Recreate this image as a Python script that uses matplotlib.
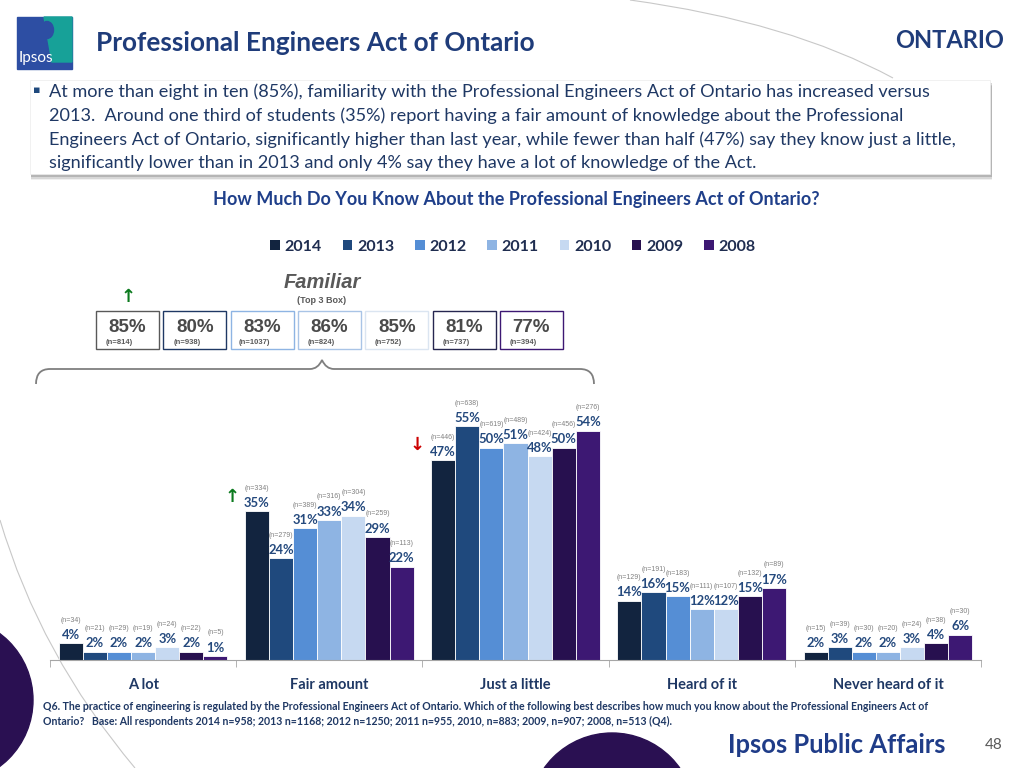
import matplotlib
matplotlib.use('Agg')
import matplotlib.pyplot as plt
from matplotlib.patches import Rectangle, Circle, PathPatch, Patch, Polygon, Ellipse
from matplotlib.path import Path
import matplotlib.transforms as mtransforms
import numpy as np

# ---------------- data ----------------
categories = ['A lot', 'Fair amount', 'Just a little', 'Heard of it', 'Never heard of it']
years = ['2014', '2013', '2012', '2011', '2010', '2009', '2008']
v2014 = [4, 35, 47, 14, 2]
v2013 = [2, 24, 55, 16, 3]
v2012 = [2, 31, 50, 15, 2]
v2011 = [2, 33, 51, 12, 2]
v2010 = [3, 34, 48, 12, 3]
v2009 = [2, 29, 50, 15, 4]
v2008 = [1, 22, 54, 17, 6]
n2014 = [34, 334, 446, 129, 15]
n2013 = [21, 279, 638, 191, 39]
n2012 = [29, 389, 619, 183, 30]
n2011 = [19, 316, 489, 111, 20]
n2010 = [24, 304, 424, 107, 24]
n2009 = [22, 259, 456, 132, 38]
n2008 = [5, 113, 276, 89, 30]
familiar_pct = [85, 80, 83, 86, 85, 81, 77]
familiar_n = [814, 938, 1037, 824, 752, 737, 394]
values = [v2014, v2013, v2012, v2011, v2010, v2009, v2008]
ns = [n2014, n2013, n2012, n2011, n2010, n2009, n2008]

colors = ['#12243f', '#1f497d', '#558ed5', '#8eb4e3', '#c6d9f1', '#27104f', '#3d1873']
box_edges = ['#595959', '#1f3864', '#8eb4e3', '#a9c4e6', '#dbe5f1', '#262650', '#3d1873']

NAVY = '#1f3864'
TITLE = '#1f3c7a'
LBL = '#24497d'
FONT = ['Lato', 'DejaVu Sans']
plt.rcParams['font.family'] = FONT

fig = plt.figure(figsize=(10.24, 7.68), dpi=100)
PX = mtransforms.Affine2D().scale(1 / 1024, -1 / 768).translate(0, 1) + fig.transFigure


def ftext(x, y, s, **kw):
    return fig.text(x / 1024, 1 - y / 768, s, **kw)


# ---------------- decorations ----------------
fig.add_artist(Circle((-50, 700), 83, transform=PX, color='#2a1052', zorder=0))
fig.add_artist(Circle((612, 816), 83, transform=PX, color='#2a1052', zorder=0))
for verts in [[(630, 0), (790, 22), (893, 78)], [(0, 520), (40, 655), (135, 768)]]:
    p = Path(verts, [Path.MOVETO, Path.CURVE3, Path.CURVE3])
    fig.add_artist(PathPatch(p, transform=PX, fill=False, edgecolor='#c8c8c8', lw=0.8, zorder=0))

# logo
fig.add_artist(Rectangle((17, 17), 55, 52, transform=PX, color='#2d4ea3', zorder=1))
fig.add_artist(Polygon([(44, 17), (72, 17), (72, 62), (52, 62), (49, 45)], transform=PX,
                       color='#17a198', zorder=1))
fig.add_artist(Ellipse((47, 30), 13, 17, transform=PX, color='#2d4ea3', zorder=2))
ftext(19, 58, 'Ipsos', fontsize=11, color='white', va='center', ha='left', zorder=3)

# title
ftext(96, 43, 'Professional Engineers Act of Ontario', fontsize=18.8, fontweight='bold',
      color=TITLE, va='center', ha='left')
ftext(1004, 41, 'ONTARIO', fontsize=17, fontweight='bold', color=TITLE, va='center', ha='right')

# text box with shadow
for i, a in enumerate([0.08, 0.14, 0.22]):
    fig.add_artist(Rectangle((31, 82 + (3 - i) * 1.3), 961, 94, transform=PX,
                             color='#404040', alpha=a, lw=0, zorder=1))
fig.add_artist(Rectangle((30, 80), 960, 94, transform=PX, facecolor='white',
                         edgecolor='#ececec', lw=0.5, zorder=2))
ftext(33, 90, '▪', fontsize=8, color='#1f497d', va='center', ha='left', zorder=3,
      family=['DejaVu Sans'])
lines = ['At more than eight in ten (85%), familiarity with the Professional Engineers Act of Ontario has increased versus',
         '2013.  Around one third of students (35%) report having a fair amount of knowledge about the Professional',
         'Engineers Act of Ontario, significantly higher than last year, while fewer than half (47%) say they know just a little,',
         'significantly lower than in 2013 and only 4% say they have a lot of knowledge of the Act.']
for i, s in enumerate(lines):
    ftext(49, 92 + i * 23.7, s, fontsize=13.1, color=NAVY, va='center', ha='left', zorder=3)

ftext(516, 199, 'How Much Do You Know About the Professional Engineers Act of Ontario?',
      fontsize=13, fontweight='bold', color='#1f3f8a', va='center', ha='center')

# legend
handles = [Patch(facecolor=c, edgecolor='none', label=y) for c, y in zip(colors, years)]
leg = fig.legend(handles=handles, loc='center', bbox_to_anchor=(513 / 1024, 1 - 247 / 768), ncol=7,
                 frameon=False, handlelength=0.6, handleheight=0.6, handletextpad=0.3,
                 columnspacing=1.3, prop={'family': FONT, 'weight': 'bold', 'size': 11.5})
for t in leg.get_texts():
    t.set_color('#1f2d50')

# Familiar boxes
ftext(322, 283, 'Familiar', fontsize=14.5, fontweight='bold', fontstyle='italic', color='#595959',
      va='center', ha='center', family=['Liberation Sans'])
ftext(322, 301, '(Top 3 Box)', fontsize=6.5, fontweight='bold', color='#595959',
      va='center', ha='center', family=['Liberation Sans'])
ftext(128, 297, '↑', fontsize=13, fontweight='bold', color='#0b7a1e', va='center', ha='center',
      family=['DejaVu Sans'])
bx0, bw, bstep = 96, 63, 67.3
for i, (p, n) in enumerate(zip(familiar_pct, familiar_n)):
    x0 = bx0 + i * bstep
    fig.add_artist(Rectangle((x0, 311), bw, 38, transform=PX, facecolor='white',
                             edgecolor=box_edges[i], lw=1.0, zorder=2))
    ftext(x0 + bw / 2, 328, f'{p}%', fontsize=13.5, fontweight='bold', color='#4a4a4a',
          va='center', ha='center', family=['Liberation Sans'], zorder=3)
    ftext(x0 + bw / 2 - 8, 342, f'(n={n})', fontsize=5.5, fontweight='bold', color='#595959',
          va='center', ha='center', family=['Liberation Sans'], zorder=3)

# brace
bverts = [(36, 384), (36, 369), (50, 369), (310, 369), (318, 369), (322, 360),
          (326, 369), (334, 369), (580, 369), (594, 369), (594, 384)]
bcodes = [Path.MOVETO, Path.CURVE3, Path.CURVE3, Path.LINETO, Path.CURVE3, Path.CURVE3,
          Path.CURVE3, Path.CURVE3, Path.LINETO, Path.CURVE3, Path.CURVE3]
fig.add_artist(PathPatch(Path(bverts, bcodes), transform=PX, fill=False, edgecolor='#7f7f7f',
                         lw=1.3, zorder=2))

# ---------------- chart ----------------
ax = fig.add_axes([50 / 1024, 108 / 768, 931 / 1024, 280 / 768])
ax.set_facecolor('none')
w = 0.1295
x = np.arange(len(categories))
for j, (vals, nv, c) in enumerate(zip(values, ns, colors)):
    xs = x + (j - 3) * w
    ax.bar(xs, vals, width=w, color=c, edgecolor='white', linewidth=0.6, zorder=2)
    for xi, v, n in zip(xs, vals, nv):
        ax.annotate(f'{v}%', (xi, v), xytext=(0, 1.5), textcoords='offset points',
                    ha='center', va='bottom', fontsize=9.4, fontweight='bold', color=LBL)
        ax.annotate(f'(n={n})', (xi, v), xytext=(0, 14), textcoords='offset points',
                    ha='center', va='bottom', fontsize=5, color='#808080',
                    family=['Liberation Sans'])

# significance arrows
ax.annotate('↑', (1 - 3 * w, v2014[1]), xytext=(-18, 10), textcoords='offset points',
            ha='center', va='center', fontsize=13, fontweight='bold', color='#0b7a1e',
            family=['DejaVu Sans'])
ax.annotate('↓', (2 - 3 * w, v2014[2]), xytext=(-19, 11), textcoords='offset points',
            ha='center', va='center', fontsize=13, fontweight='bold', color='#cc0000',
            family=['DejaVu Sans'])

ax.set_xlim(-0.5, len(categories) - 0.5)
ax.set_ylim(0, 280 / 4.25)
for s in ['top', 'left', 'right']:
    ax.spines[s].set_visible(False)
ax.spines['bottom'].set_color('#a6a6a6')
ax.set_yticks([])
ax.set_xticks(x)
ax.set_xticklabels(categories, fontsize=10.5, fontweight='bold', color=NAVY)
ax.tick_params(axis='x', which='major', length=0, pad=13)
ax.set_xticks(np.arange(-0.5, len(categories)), minor=True)
ax.tick_params(axis='x', which='minor', length=5, color='#a6a6a6')

# footnote
ftext(43, 707, 'Q6. The practice of engineering is regulated by the Professional Engineers Act of Ontario. '
      'Which of the following best describes how much you know about the Professional Engineers Act of',
      fontsize=7.6, fontweight='bold', color=NAVY, va='center', ha='left')
ftext(43, 721, 'Ontario?   Base: All respondents 2014 n=958; 2013 n=1168; 2012 n=1250; 2011 n=955, 2010, n=883; '
      '2009, n=907; 2008, n=513 (Q4).',
      fontsize=7.6, fontweight='bold', color=NAVY, va='center', ha='left')

ftext(945, 745, 'Ipsos Public Affairs', fontsize=18.4, fontweight='bold', color='#1f3c88',
      va='center', ha='right')
ftext(1003, 745, '48', fontsize=11, color='#595959', va='center', ha='right')

fig.savefig('out.png', dpi=100)
